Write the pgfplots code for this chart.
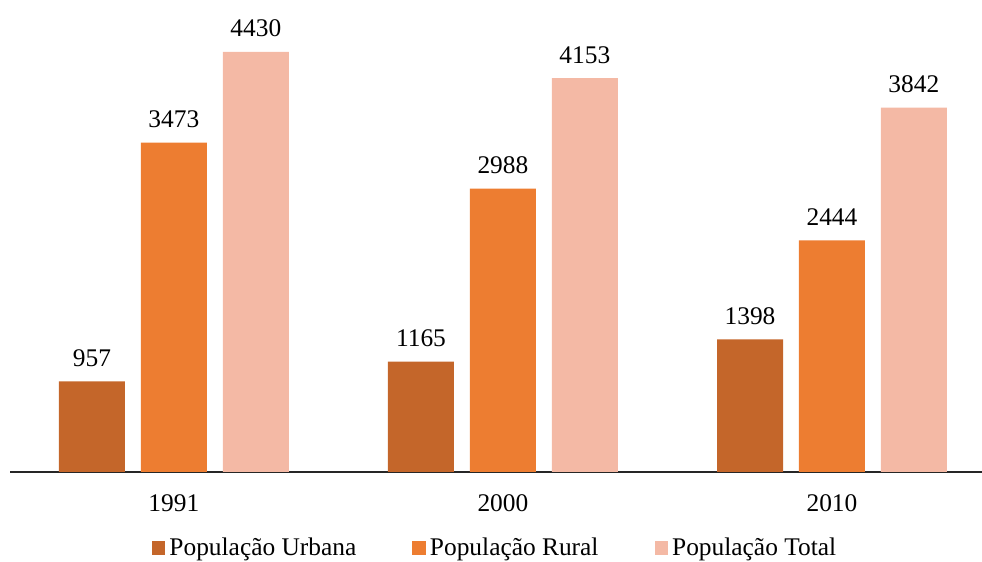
\documentclass[border=0pt]{standalone}
\usepackage{fontspec}
\setmainfont{Liberation Serif}
\usepackage{pgfplots}
\pgfplotsset{compat=1.18}
\definecolor{cUrb}{HTML}{C4662A}
\definecolor{cRur}{HTML}{ED7D31}
\definecolor{cTot}{HTML}{F4B9A5}
\begin{document}
\begin{tikzpicture}[font=\fontsize{12.7}{15}\selectfont]
\begin{axis}[
 name=ax,
 scale only axis, width=486pt, height=236pt,
 xmin=-0.498, xmax=2.456, ymin=0, ymax=4978,
 axis x line*=bottom, axis y line=none,
 x axis line style={line width=0.9pt, color=black!85, -},
 xtick={0,1,2}, xticklabels={1991,2000,2010}, major tick length=0pt,
 xticklabel style={anchor=center, yshift=-15.5pt},
 ytick=\empty,
 ybar, bar width=0.2006,
 nodes near coords,
 nodes near coords style={anchor=south, inner sep=0pt, yshift=7.2pt, text=black},
 /pgf/number format/1000 sep={},
 /pgf/number format/assume math mode=true,
 clip=false,
 legend style={at={(0.5,-0.162)}, anchor=center, legend columns=3, draw=none, fill=none,
   /tikz/every even column/.append style={column sep=26pt}},
 legend image code/.code={\fill[#1] (0pt,-3.3pt) rectangle (6.8pt,3.5pt);},
]
\addplot[fill=cUrb, draw=none, bar shift=-0.249] coordinates {(0,957) (1,1165) (2,1398)};
\addplot[fill=cRur, draw=none, bar shift=0] coordinates {(0,3473) (1,2988) (2,2444)};
\addplot[fill=cTot, draw=none, bar shift=0.249] coordinates {(0,4430) (1,4153) (2,3842)};
\legend{População Urbana, População Rural, População Total}
\end{axis}
\pgfresetboundingbox
\path[use as bounding box] ([xshift=-5pt,yshift=-45pt]ax.south west) rectangle (ax.north east);
\end{tikzpicture}
\end{document}
